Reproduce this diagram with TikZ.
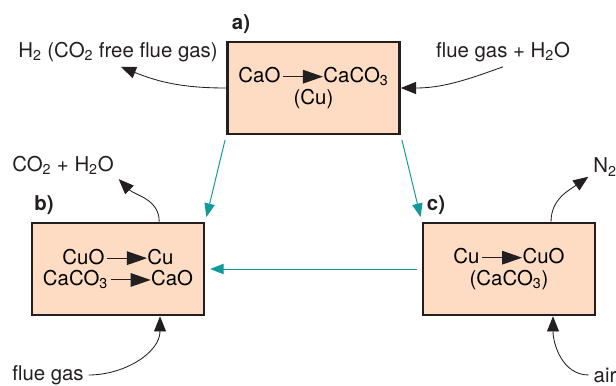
\documentclass[tikz,border=0pt]{standalone}
\usepackage{fontspec}
\setmainfont{TeX Gyre Heros}
\usetikzlibrary{arrows.meta}
\definecolor{ink}{HTML}{231F20}
\definecolor{peach}{HTML}{FDDCC3}
\definecolor{loopteal}{HTML}{12999A}
\tikzset{
	reactor/.style={draw=ink, line width=1.8pt, fill=peach, minimum width=4.3cm,
		minimum height=2.3cm, align=center, inner sep=0pt},
	gas/.style={text=ink},
	tag/.style={text=ink, font=\fontsize{14.5}{15}\selectfont\bfseries},
	stream/.style={ink, line width=0.6pt, -{Triangle[length=0.38cm,width=0.3cm]}},
	transfer/.style={loopteal, line width=0.7pt, -{Triangle[length=0.34cm,width=0.26cm]},
		shorten <=0.12cm, shorten >=0.12cm}
}
\newcommand{\yields}{\kern1.5pt\tikz[baseline=-0.55ex]\draw[ink, line width=0.7pt,
	-{Triangle[length=0.5cm,width=0.34cm]}] (0,0) -- (1cm,0);}

\begin{document}
\begin{tikzpicture}[x=0.025cm, y=-0.025cm, font=\fontsize{14.5}{15.5}\selectfont]

		\useasboundingbox (0,0) rectangle (616,386);

		% Reactors
		\node[reactor] (boxa) at (313.5,88) {CaO\yields CaCO\textsubscript{3}\\(Cu)};
		\node[tag] (taga) at (241,24) {a)};

		\node[reactor] (boxb) at (118,269) {CuO\yields Cu\\CaCO\textsubscript{3}\yields CaO};
		\node[tag] (tagb) at (44,205) {b)};

		\node[reactor] (boxc) at (509,269) {Cu\yields CuO\\(CaCO\textsubscript{3})};
		\node[tag] (tagc) at (436,205) {c)};

		% Gas streams
		\node[gas] (cleangas) at (118,52) {H\textsubscript{2} (CO\textsubscript{2} free flue gas)};
		\node[gas] (fluewet) at (503,52) {flue gas + H\textsubscript{2}O};
		\node[gas] (regenout) at (63,165) {CO\textsubscript{2} + H\textsubscript{2}O};
		\node[gas] (nitrogen) at (605,167) {N\textsubscript{2}};
		\node[gas] (fluein) at (48,375) {flue gas};
		\node[gas] (airin) at (605,375) {air};

		\draw[stream] (boxa.west) to[out=180, in=-22] ([xshift=2pt]cleangas.south);
		\draw[stream] (fluewet.south) to[out=-160, in=0] (boxa.east);

		\draw[stream] ([xshift=1.03cm]boxb.north) to[out=90, in=-45] (regenout.south east);
		\draw[stream] ([xshift=1.05cm]boxc.north) to[out=90, in=215] ([yshift=3pt]nitrogen.south west);

		\draw[stream] (fluein.east) to[out=0, in=-90] ([xshift=1.05cm]boxb.south);
		\draw[stream] (airin.west) to[out=180, in=-90] ([xshift=1.1cm]boxc.south);

		% Solids loop
		\draw[transfer] (boxa.south west) -- (boxb.north east);
		\draw[transfer] (boxa.south east) -- (boxc.north west);
		\draw[transfer] (boxc.west) -- (boxb.east);

	\end{tikzpicture}
\end{document}
